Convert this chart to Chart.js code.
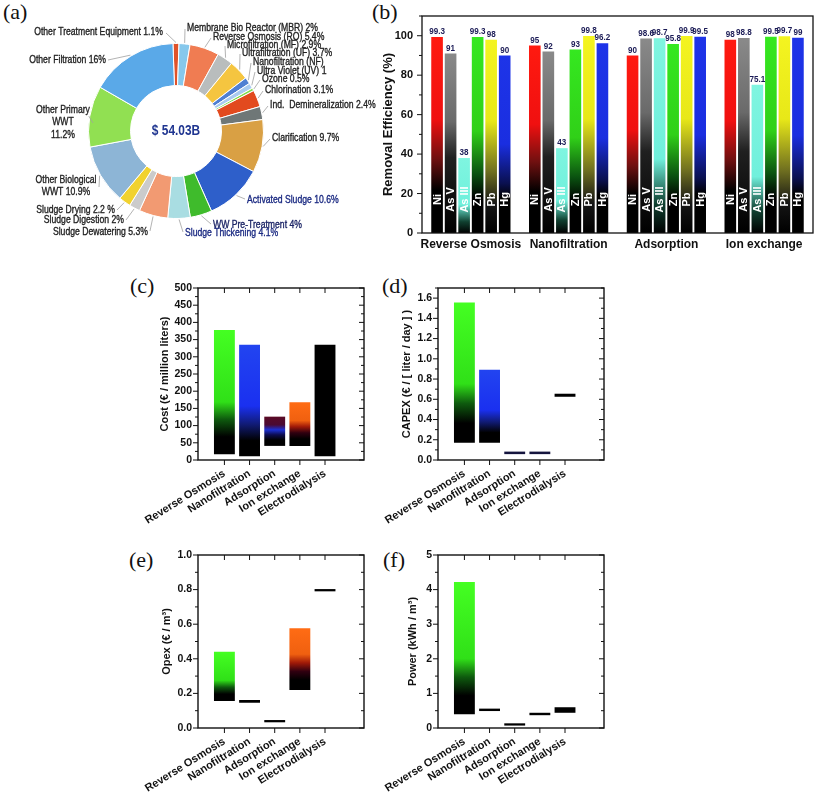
<!DOCTYPE html>
<html>
<head>
<meta charset="utf-8">
<script src="https://cdn.jsdelivr.net/npm/chart.js@4.4.0/dist/chart.umd.min.js"></script>
<style>
  body { margin: 0; background: #fff; width: 817px; height: 795px; position: relative; overflow: hidden; }
  canvas { position: absolute; }
  .tag { position: absolute; font-family: "Liberation Serif", "DejaVu Serif", serif; font-size: 22px; line-height: 22px; color: #111; }
</style>
</head>
<body>
<div class="tag" style="left:3px;top:1px">(a)</div>
<div class="tag" style="left:372px;top:1px">(b)</div>
<div class="tag" style="left:130px;top:275px">(c)</div>
<div class="tag" style="left:382px;top:275px">(d)</div>
<div class="tag" style="left:129px;top:549px">(e)</div>
<div class="tag" style="left:383px;top:549px">(f)</div>

<canvas id="ca" width="385" height="250" style="left:0;top:0"></canvas>
<canvas id="cb" width="437" height="258" style="left:380px;top:0"></canvas>
<canvas id="cc" width="262" height="262" style="left:120px;top:268px"></canvas>
<canvas id="cd" width="242" height="262" style="left:378px;top:268px"></canvas>
<canvas id="ce" width="262" height="260" style="left:120px;top:535px"></canvas>
<canvas id="cf" width="242" height="260" style="left:378px;top:535px"></canvas>

<script>
// ---- (a) market share, % ----
var marketLabels = ["Other Treatment Equipment", "Membrane Bio Reactor (MBR)", "Reverse Osmosis (RO)",
  "Microfiltration (MF)", "Ultrafiltration (UF)", "Nanofiltration (NF)", "Ultra Violet (UV)", "Ozone",
  "Chlorination", "Ind. Demineralization", "Clarification", "Activated Sludge", "WW Pre-Treatment",
  "Sludge Thickening", "Sludge Dewatering", "Sludge Digestion", "Sludge Drying", "Other Biological WWT",
  "Other Primary WWT", "Other Filtration"];
var marketShare = [1.1, 2, 5.4, 2.9, 3.7, 1.2, 1, 0.5, 3.1, 2.4, 9.7, 10.6, 4, 4.1, 5.3, 2, 2.2, 10.9, 11.2, 16];
var marketText = ["Other Treatment Equipment 1.1%", "Membrane Bio Reactor (MBR) 2%", "Reverse Osmosis (RO) 5.4%",
  "Microfiltration (MF) 2.9%", "Ultrafiltration (UF) 3.7%", "Nanofiltration (NF)", "Ultra Violet (UV) 1",
  "Ozone 0.5%", "Chlorination 3.1%", "Ind.  Demineralization 2.4%", "Clarification 9.7%",
  "Activated Sludge 10.6%", "WW Pre-Treatment 4%", "Sludge Thickening 4.1%", "Sludge Dewatering 5.3%",
  "Sludge Digestion 2%", "Sludge Drying 2.2 %", "Other Biological\nWWT 10.9%", "Other Primary\nWWT\n11.2%",
  "Other Filtration 16%"];
var marketTotal = "$ 54.03B";

// ---- (b) removal efficiency, % ----
var processes = ["Reverse Osmosis", "Nanofiltration", "Adsorption", "Ion exchange"];
var metals = ["Ni", "As V", "As III", "Zn", "Pb", "Hg"];
var removalNi   = [99.3, 95, 90, 98];
var removalAsV  = [91, 92, 98.6, 98.8];
var removalAsIII = [38, 43, 98.7, 75.1];
var removalZn   = [99.3, 93, 95.8, 99.5];
var removalPb   = [98, 99.8, 99.9, 99.7];
var removalHg   = [90, 96.2, 99.5, 99];

// ---- (c)-(f) ranges per technology ----
var technologies = ["Reverse Osmosis", "Nanofiltration", "Adsorption", "Ion exchange", "Electrodialysis"];
var costLow  = [17, 11, 41, 41, 11];
var costHigh = [378, 335, 126, 168, 335];
var capexLow  = [0.17, 0.17, 0.058, 0.058, 0.625];
var capexHigh = [1.557, 0.891, 0.083, 0.083, 0.655];
var opexLow  = [0.156, 0.146, 0.033, 0.22, 0.79];
var opexHigh = [0.441, 0.162, 0.046, 0.576, 0.803];
var powerLow  = [0.40, 0.49, 0.07, 0.37, 0.44];
var powerHigh = [4.22, 0.56, 0.135, 0.44, 0.60];

// ---------- styles ----------
var F = '"Liberation Sans", Arial, sans-serif';

var sliceColors = ["#e0522a", "#86c8ec", "#f07c52", "#b9bdbd", "#f5c540", "#4f7fd2", "#a9cbf0", "#7fdc4e",
  "#e24a1e", "#6f7777", "#d9a044", "#2e5fca", "#3fbb2c", "#a9dde2", "#f29a72", "#cbcbcb", "#f1d22f",
  "#8db5d6", "#91e052", "#5aa9e8"];
var labelColors = ["#222", "#222", "#222", "#222", "#222", "#222", "#222", "#222", "#222", "#222", "#222",
  "#1b2a82", "#1b2466", "#1b2a82", "#222", "#222", "#222", "#222", "#222", "#222"];
// x, y, align, leader end x, leader end y
var labelPos = [
  [163, 32, 'right', 166, 33], [187, 28, 'left', 185, 29], [213, 37, 'left', 211, 38],
  [227, 45, 'left', 225, 46], [242, 53, 'left', 240, 54], [253, 62, 'left', 251, 63],
  [257, 71, 'left', 255, 72], [262, 79, 'left', 260, 80], [265, 90, 'left', 263, 91],
  [270, 105, 'left', 268, 106], [272, 138, 'left', 270, 139], [247, 200, 'left', 245, 199],
  [213, 225, 'left', 211, 224], [185, 233, 'left', 183, 232], [148, 232, 'right', 150, 231],
  [124, 220, 'right', 126, 220], [115, 210, 'right', 117, 210], [66, 180, 'center', 99, 187],
  [63, 110, 'center', 93, 123], [106, 60, 'right', 108, 60]
];

var metalStops = [
  [[0, '#ff1a10'], [0.42, '#f01010'], [0.62, '#701010'], [0.78, '#000'], [1, '#000']],
  [[0, '#8a8a8a'], [0.38, '#6a6a6a'], [0.58, '#202020'], [1, '#000']],
  [[0, '#7ff5e0'], [0.62, '#70f0dc'], [0.85, '#104030'], [1, '#000']],
  [[0, '#35e820'], [0.48, '#30d018'], [0.7, '#0a5010'], [0.82, '#000'], [1, '#000']],
  [[0, '#f4f420'], [0.42, '#e8e818'], [0.68, '#707020'], [0.85, '#151515'], [1, '#000']],
  [[0, '#1e34e8'], [0.5, '#1a2ee0'], [0.72, '#0a1050'], [0.8, '#000'], [1, '#000']]
];

var GREEN  = [[0, '#44ff22'], [0.58, '#30e018'], [0.72, '#0e5a0e'], [0.86, '#000'], [1, '#000']];
var BLUE   = [[0, '#2244f0'], [0.55, '#1a30f0'], [0.72, '#101a70'], [0.86, '#000'], [1, '#000']];
var MIXED  = [[0, '#5a0a24'], [0.28, '#4a0a34'], [0.45, '#1c30d4'], [0.62, '#0c0c50'], [0.8, '#000'], [1, '#000']];
var ORANGE = [[0, '#ff6c14'], [0.42, '#f06010'], [0.56, '#a01a08'], [0.7, '#300010'], [0.84, '#000'], [1, '#000']];
var BLACK = '#000', NAVY = '#15153e';

// ---------- helpers ----------
function fillFor(stops) {
  if (typeof stops === 'string') return stops;
  return function (c) {
    var chart = c.chart, ys = chart.scales.y;
    if (c.type !== 'data' || !ys || !chart.chartArea) return stops[0][1];
    var v = c.raw, lo = 0, hi = v;
    if (v && typeof v === 'object') { lo = v.y[0]; hi = v.y[1]; }
    var top = ys.getPixelForValue(hi), bot = ys.getPixelForValue(lo);
    if (!(bot > top + 1)) return stops[0][1];
    var g = chart.ctx.createLinearGradient(0, top, 0, bot);
    stops.forEach(function (s) { g.addColorStop(s[0], s[1]); });
    return g;
  };
}

function perBar(list) {
  var fns = list.map(fillFor);
  return function (c) {
    var f = fns[c.dataIndex];
    return typeof f === 'function' ? f(c) : f;
  };
}

// condensed text, like the narrow face of the original
function narrowText(ctx, s, x, y, align, squeeze, heavy) {
  ctx.save();
  ctx.translate(x, y);
  ctx.scale(squeeze, 1);
  ctx.textAlign = align;
  ctx.fillText(s, 0, 0);
  if (heavy) {
    ctx.strokeStyle = ctx.fillStyle;
    ctx.lineWidth = heavy;
    ctx.strokeText(s, 0, 0);
  }
  ctx.restore();
}

// frame + ticks
var frame = {
  id: 'frame',
  afterDraw: function (chart, args, o) {
    var ctx = chart.ctx, a = chart.chartArea, x = chart.scales.x, y = chart.scales.y;
    function seg(x1, y1, x2, y2) { ctx.beginPath(); ctx.moveTo(x1, y1); ctx.lineTo(x2, y2); ctx.stroke(); }
    ctx.save();
    ctx.strokeStyle = '#111';
    ctx.lineWidth = o.width || 1.3;
    ctx.strokeRect(a.left, a.top, a.right - a.left, a.bottom - a.top);
    ctx.lineWidth = 1;
    var majors = y.ticks.map(function (t) { return t.value; });
    majors.forEach(function (v) {
      var p = y.getPixelForValue(v);
      seg(a.left - 5, p, a.left, p);
      if (o.mirror) seg(a.right - 5, p, a.right, p);
    });
    for (var i = 1; i * o.minor <= y.max + 1e-9; i++) {
      var v = i * o.minor;
      if (majors.some(function (m) { return Math.abs(m - v) < 1e-6; })) continue;
      var p = y.getPixelForValue(v);
      seg(a.left - 3, p, a.left, p);
      if (o.mirror) seg(a.right - 3, p, a.right, p);
    }
    if (o.mirror) {
      x.ticks.forEach(function (t) {
        if (t.value > technologies.length) return;
        var p = x.getPixelForValue(t.value);
        seg(p, a.bottom, p, a.bottom + 5);
        seg(p, a.top, p, a.top + 5);
      });
    }
    ctx.restore();
  }
};

// (b) value labels and metal names
var barText = {
  id: 'barText',
  afterDatasetsDraw: function (chart) {
    var ctx = chart.ctx, y = chart.scales.y;
    ctx.save();
    chart.data.datasets.forEach(function (ds, di) {
      chart.getDatasetMeta(di).data.forEach(function (bar, i) {
        ctx.fillStyle = '#1a1a55';
        ctx.font = 'bold 8.5px ' + F;
        ctx.textBaseline = 'bottom';
        narrowText(ctx, String(ds.data[i]), bar.x, bar.y - 1, 'center', 0.95);
        ctx.save();
        ctx.translate(bar.x, y.getPixelForValue(17));
        ctx.rotate(-Math.PI / 2);
        ctx.fillStyle = '#fff';
        ctx.font = 'bold 11px ' + F;
        ctx.textAlign = 'center';
        ctx.textBaseline = 'middle';
        ctx.fillText(ds.label, 0, 0.5);
        ctx.restore();
      });
    });
    ctx.restore();
  }
};

// (a) labels with leader lines and total in the hole
var donutText = {
  id: 'donutText',
  afterDraw: function (chart) {
    var ctx = chart.ctx, arcs = chart.getDatasetMeta(0).data;
    ctx.save();
    arcs.forEach(function (arc, i) {
      var p = labelPos[i], mid = (arc.startAngle + arc.endAngle) / 2, r = arc.outerRadius + 1;
      var ax = arc.x + Math.cos(mid) * r, ay = arc.y + Math.sin(mid) * r;
      ctx.strokeStyle = '#a0a0a0';
      ctx.lineWidth = 0.8;
      ctx.beginPath(); ctx.moveTo(ax, ay); ctx.lineTo(p[3], p[4]); ctx.stroke();
      ctx.font = '10.8px ' + F;
      ctx.fillStyle = labelColors[i];
      ctx.textBaseline = 'middle';
      marketText[i].split('\n').forEach(function (line, k) {
        narrowText(ctx, line, p[0], p[1] + k * 12.5, p[2], 0.8, 0.35);
      });
    });
    ctx.font = 'bold 14px ' + F;
    ctx.fillStyle = '#1f3590';
    ctx.textBaseline = 'middle';
    narrowText(ctx, marketTotal, arcs[0].x, arcs[0].y, 'center', 0.85);
    ctx.restore();
  }
};

// ---------- (a) ----------
new Chart(document.getElementById('ca'), {
  type: 'doughnut',
  data: { labels: marketLabels, datasets: [{ data: marketShare, backgroundColor: sliceColors, borderColor: '#fff', borderWidth: 1 }] },
  options: {
    responsive: false, animation: false, cutout: '52%', rotation: -2,
    layout: { padding: { left: 88, top: 43, right: 121, bottom: 31 } },
    plugins: { legend: { display: false }, tooltip: { enabled: false } }
  },
  plugins: [donutText]
});

// ---------- (b) ----------
var removalSeries = [removalNi, removalAsV, removalAsIII, removalZn, removalPb, removalHg];
new Chart(document.getElementById('cb'), {
  type: 'bar',
  data: {
    labels: processes,
    datasets: metals.map(function (m, i) {
      return { label: m, data: removalSeries[i], backgroundColor: fillFor(metalStops[i]), borderWidth: 0,
               categoryPercentage: 0.83, barPercentage: 0.86 };
    })
  },
  options: {
    responsive: false, animation: false,
    layout: { padding: { top: 16, right: 4, left: 0, bottom: 0 } },
    plugins: { legend: { display: false }, tooltip: { enabled: false }, frame: { minor: 10, mirror: false, width: 1.3 } },
    scales: {
      x: {
        grid: { display: false, drawTicks: false }, border: { display: false },
        afterFit: function (s) { s.height = 25; s.paddingLeft = 0; s.paddingRight = 0; },
        ticks: { padding: 4, autoSkip: false, minRotation: 0, maxRotation: 0, color: '#111', font: { family: F, weight: 'bold', size: 12 } }
      },
      y: {
        min: 0, max: 110,
        grid: { display: false, drawTicks: false }, border: { display: false },
        afterFit: function (s) { s.width = 42; },
        title: { display: true, text: 'Removal Efficiency (%)', color: '#111', padding: { top: 1 }, font: { family: F, weight: 'bold', size: 13 } },
        ticks: { stepSize: 20, includeBounds: false, padding: 9, color: '#111', font: { family: F, weight: 'bold', size: 11 } }
      }
    }
  },
  plugins: [barText, frame]
});

// ---------- (c)-(f) ----------
function rangeChart(id, lo, hi, yMax, step, minor, digits, title, fills, yWidth, titlePad, xHeight, padRight) {
  var rows = technologies.map(function (t, i) { return { x: i + 1, y: [lo[i], hi[i]] }; });
  return new Chart(document.getElementById(id), {
    type: 'bar',
    data: { datasets: [{ data: rows, backgroundColor: perBar(fills), borderWidth: 0, barPercentage: 0.83, categoryPercentage: 1 }] },
    options: {
      responsive: false, animation: false,
      layout: { padding: { top: 20, right: padRight, left: 0, bottom: 0 } },
      plugins: { legend: { display: false }, tooltip: { enabled: false }, frame: { minor: minor, mirror: true, width: 1.4 } },
      scales: {
        x: {
          type: 'linear', min: 0.5, max: 6,
          grid: { display: false, drawTicks: false }, border: { display: false },
          afterFit: function (s) { s.height = xHeight; s.paddingLeft = 0; s.paddingRight = 0; },
          ticks: {
            stepSize: 1, includeBounds: false, autoSkip: false, minRotation: 32, maxRotation: 32, padding: 7,
            color: '#111', font: { family: F, weight: 'bold', size: 11 },
            callback: function (v) { return technologies[v - 1] || ''; }
          }
        },
        y: {
          min: 0, max: yMax,
          grid: { display: false, drawTicks: false }, border: { display: false },
          afterFit: function (s) { s.width = yWidth; },
          title: { display: true, text: title, color: '#111', padding: { top: titlePad }, font: { family: F, weight: 'bold', size: 11 } },
          ticks: {
            stepSize: step, includeBounds: false, padding: 6, color: '#111', font: { family: F, weight: 'bold', size: 10.5 },
            callback: function (v) { return Number(v).toFixed(digits); }
          }
        }
      }
    },
    plugins: [frame]
  });
}

rangeChart('cc', costLow, costHigh, 500, 50, 25, 0, 'Cost (\u20ac / million liters)',
  [GREEN, BLUE, MIXED, ORANGE, BLACK], 78, 38, 70, 18);
rangeChart('cd', capexLow, capexHigh, 1.7, 0.2, 0.1, 1, 'CAPEX (\u20ac / [ liter / day ] )',
  [GREEN, BLUE, NAVY, NAVY, BLACK], 60, 22, 70, 16);
rangeChart('ce', opexLow, opexHigh, 1.0, 0.2, 0.1, 1, 'Opex (\u20ac / m\u00b3)',
  [GREEN, BLACK, BLACK, ORANGE, BLACK], 78, 40, 67, 18);
rangeChart('cf', powerLow, powerHigh, 5, 1, 0.5, 0, 'Power (kWh / m\u00b3)',
  [GREEN, BLACK, BLACK, BLACK, BLACK], 60, 28, 67, 16);
</script>
</body>
</html>
